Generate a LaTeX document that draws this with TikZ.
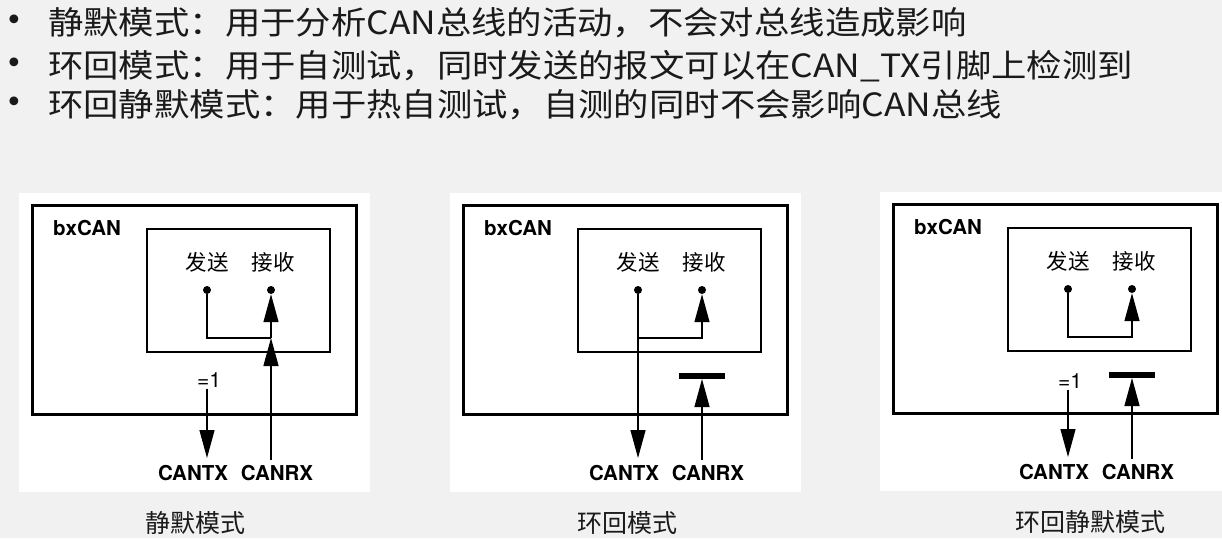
\documentclass[tikz,border=0pt]{standalone}
\usepackage{fontspec}
\setsansfont{TeX Gyre Heros}
\newfontfamily\cjk{Noto Sans CJK SC}
\newfontfamily\cjkwide[FakeStretch=1.105]{Noto Sans CJK SC}
\newfontfamily\dotfont{DejaVu Sans}
\usetikzlibrary{arrows.meta, positioning}
\definecolor{PageGrey}{HTML}{F1F1F1}
\definecolor{Ink}{HTML}{1A1A1A}
\tikzset{
  sig arrow/.style={-{Triangle[length=28pt,width=15pt]}, line width=1.3pt},
  sig line/.style={line width=1.3pt},
}

\begin{document}
\begin{tikzpicture}[x=1pt, y=-1pt,
    note/.style={font=\cjkwide\fontsize{32}{36}\selectfont, text=Ink, anchor=west, inner sep=0pt},
    dotmark/.style={font=\dotfont\fontsize{30}{34}\selectfont, text=Ink, inner sep=0pt},
    tag/.style={font=\sffamily\bfseries\fontsize{20.5}{24}\selectfont, inner sep=0pt},
    port/.style={font=\cjk\fontsize{21.5}{24}\selectfont, inner sep=0pt},
    caption/.style={font=\cjk\fontsize{25}{28}\selectfont, text=Ink, inner sep=0pt},
    pin/.style={circle, fill, inner sep=0pt, minimum size=8pt},
    bar/.style={line width=6pt}]
  \useasboundingbox[fill=PageGrey] (0,0) rectangle (1222,538);
  % Notes
  \node[dotmark] (d1) at (14,23)  {•};
  \node[dotmark] (d2) at (14,66)  {•};
  \node[dotmark] (d3) at (14,105) {•};
  \node[note] (n1) at (48,23)  {静默模式：用于分析CAN总线的活动，不会对总线造成影响};
  \node[note] (n2) at (48,66)  {环回模式：用于自测试，同时发送的报文可以在CAN\_TX引脚上检测到};
  \node[note] (n3) at (48,105) {环回静默模式：用于热自测试，自测的同时不会影响CAN总线};
  % Panels
  \foreach \p/\px/\py/\cap/\cx in {m/32/205/静默模式/163, l/463/205/环回模式/164,
                                   s/893/204/环回静默模式/197}{
    \begin{scope}[shift={(\px,\py)}, name prefix=\p-]
      \fill[white] (-13,-12) rectangle (338,287);
      \draw[line width=3pt] (0,0) rectangle (324,209);
      \draw[line width=1.3pt] (115,24) rectangle (298,147);
      \node[tag, anchor=west] (chip) at (21,23) {bxCAN};
      \node[port] (txt) at (175,57) {发送};
      \node[port] (rxt) at (241,57) {接收};
      \node[pin] (tx) at (175,85) {};
      \node[pin] (rx) at (239,85) {};
      \node[tag] (cantx) at (161,268) {CANTX};
      \node[tag] (canrx) at (245,268) {CANRX};
      \node[caption] (title) at (\cx,318) {\cap};
      \coordinate (bend)  at (175,133);
      \coordinate (join)  at (239,133);
      \coordinate (gate)  at (239,171);
      \coordinate (txpin) at (175,253);
      \coordinate (rxpin) at (239,255);
    \end{scope}
  }
  % Silent mode
  \node[font=\sffamily\fontsize{21}{24}\selectfont, inner sep=1pt] (m-one) at (209,380) {=1};
  \draw[sig arrow] (m-rxpin) -- (m-join);
  \draw[sig arrow] (m-join) -- (m-rx);
  \draw[sig line]  (m-tx) |- (m-join);
  \draw[sig arrow] (m-one.south -| m-tx) -- (m-txpin);
  % Loop back mode
  \draw[sig arrow] (l-tx) -- (l-txpin);
  \draw[sig arrow] (l-bend) -| (l-rx);
  \draw[bar] ([xshift=-23pt]l-gate) -- ([xshift=23pt]l-gate);
  \draw[sig arrow] (l-rxpin) -- ([yshift=-3pt]l-gate);
  % Loop back combined with silent mode
  \node[font=\sffamily\fontsize{21}{24}\selectfont, inner sep=1pt] (s-one) at (1070,381) {=1};
  \draw[sig arrow] (s-tx) |- (s-join) -- (s-rx);
  \draw[sig arrow] (s-one.south -| s-tx) -- (s-txpin);
  \draw[bar] ([xshift=-23pt]s-gate) -- ([xshift=23pt]s-gate);
  \draw[sig arrow] (s-rxpin) -- ([yshift=-3pt]s-gate);
\end{tikzpicture}
\end{document}
